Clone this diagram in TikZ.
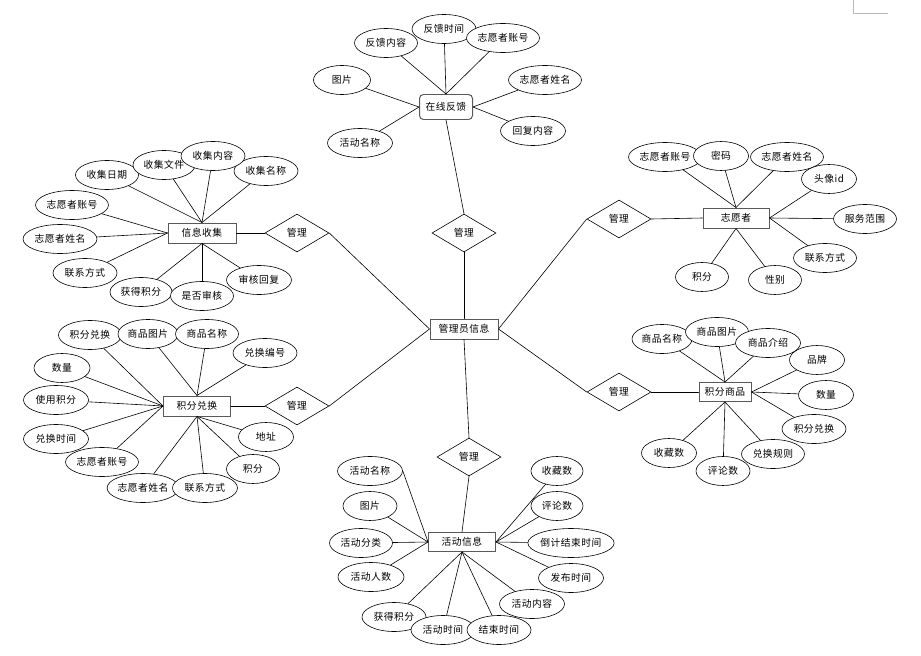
\documentclass[tikz,border=0pt]{standalone}
\usepackage{fontspec}
\newfontfamily\cjk[LetterSpace=5]{Noto Sans CJK SC}
\usepackage{tikz}
\usetikzlibrary{shapes.geometric}
\tikzset{
  entbox/.style={draw=black!65, line width=1pt, fill=white, minimum width=67bp, minimum height=20bp, inner sep=0pt},
  fbbox/.style={entbox, rounded corners=4bp, minimum width=53bp, minimum height=25bp},
  relbox/.style={diamond, draw, line width=0.6pt, fill=white, minimum width=64bp, minimum height=38bp, inner sep=0pt},
  attrell/.style={ellipse, draw, line width=0.6pt, fill=white, minimum height=29bp, inner sep=0pt},
  linkln/.style={line width=0.6pt, line cap=round},
  every node/.style={font=\cjk\fontsize{9.8}{11}\selectfont},
}
\newcommand{\attrnode}[4]{%
  \node[attrell, minimum width=#3bp] (#1) at #2 {#4};
}

\begin{document}
\begin{tikzpicture}[x=1bp, y=-1bp]
    \useasboundingbox (0,0) rectangle (921,656);
    % corner mark
    \draw[gray!55, line width=0.6pt] (853,0) -- (853,13) -- (888,13);
    % centre entity
    \node[entbox, minimum width=68bp] (admin) at (464,329) {管理员信息};
    % relations
    \node[relbox] (rFb) at (464,233) {管理};
    \node[relbox] (rCol) at (297,233) {管理};
    \node[relbox] (rVol) at (619,219) {管理};
    \node[relbox] (rExc) at (297,406) {管理};
    \node[relbox] (rGoods) at (619,392) {管理};
    \node[relbox] (rAct) at (469,457) {管理};

    % online feedback
    \node[fbbox] (fb) at (446,107) {在线反馈};
    \attrnode{fbA}{(386,43)}{63}{反馈内容}
    \attrnode{fbB}{(444,29)}{64}{反馈时间}
    \attrnode{fbC}{(503,38)}{73}{志愿者账号}
    \attrnode{fbD}{(342,80)}{57}{图片}
    \attrnode{fbE}{(545,80)}{73}{志愿者姓名}
    \attrnode{fbF}{(360,143)}{65}{活动名称}
    \attrnode{fbG}{(533,131)}{65}{回复内容}
    \foreach \a in {fbA,fbB,fbC} \draw[linkln] (\a) -- (fb.north);
    \foreach \a in {fbD,fbF} \draw[linkln] (\a) -- (fb.west);
    \foreach \a in {fbE,fbG} \draw[linkln] (\a) -- (fb.east);

    % information collection
    \node[entbox, minimum width=68bp] (col) at (202,233) {信息收集};
    \attrnode{colA}{(107,175)}{63}{收集日期}
    \attrnode{colB}{(164,165)}{62}{收集文件}
    \attrnode{colD}{(266,171)}{64}{收集名称}
    \attrnode{colC}{(213,156)}{64}{收集内容}
    \attrnode{colE}{(72,205)}{73}{志愿者账号}
    \attrnode{colF}{(60,239)}{74}{志愿者姓名}
    \attrnode{colG}{(85,273)}{64}{联系方式}
    \attrnode{colH}{(141,292)}{62}{获得积分}
    \attrnode{colI}{(202,296)}{63}{是否审核}
    \attrnode{colJ}{(259,280)}{65}{审核回复}
    \foreach \a in {colA,colB,colC,colD} \draw[linkln] (\a) -- (col.north);
    \foreach \a in {colE,colF,colG} \draw[linkln] (\a) -- (col.west);
    \foreach \a in {colH,colI,colJ} \draw[linkln] (\a) -- (col.south);

    % volunteer
    \node[entbox, minimum width=66bp] (vol) at (736,218) {志愿者};
    \attrnode{volA}{(665,157)}{73}{志愿者账号}
    \attrnode{volB}{(721,156)}{55}{密码}
    \attrnode{volC}{(787,157)}{73}{志愿者姓名}
    \attrnode{volD}{(829,179)}{55}{头像id}
    \attrnode{volE}{(865,219)}{63}{服务范围}
    \attrnode{volF}{(825,258)}{63}{联系方式}
    \attrnode{volG}{(775,280)}{53}{性别}
    \attrnode{volH}{(702,277)}{53}{积分}
    \foreach \a in {volA,volB,volC} \draw[linkln] (\a) -- (vol.north);
    \foreach \a in {volD,volE,volF} \draw[linkln] (\a) -- (vol.east);
    \foreach \a in {volG,volH} \draw[linkln] (\a) -- (vol.south);

    % points exchange
    \node[entbox] (exc) at (197,406) {积分兑换};
    \attrnode{excA}{(90,335)}{63}{积分兑换}
    \attrnode{excB}{(148,334)}{60}{商品图片}
    \attrnode{excC}{(207,334)}{63}{商品名称}
    \attrnode{excD}{(265,353)}{64}{兑换编号}
    \attrnode{excE}{(62,368)}{56}{数量}
    \attrnode{excF}{(56,400)}{65}{使用积分}
    \attrnode{excG}{(56,439)}{65}{兑换时间}
    \attrnode{excH}{(102,462)}{73}{志愿者账号}
    \attrnode{excI}{(143,488)}{68}{志愿者姓名}
    \attrnode{excJ}{(205,488)}{65}{联系方式}
    \attrnode{excK}{(253,469)}{53}{积分}
    \attrnode{excL}{(266,437)}{55}{地址}
    \foreach \a in {excB,excC,excD} \draw[linkln] (\a) -- (exc.north);
    \foreach \a in {excA,excE,excF,excG,excH} \draw[linkln] (\a) -- (exc.west);
    \foreach \a in {excI,excJ,excK,excL} \draw[linkln] (\a) -- (exc.south);

    % points goods
    \node[entbox, minimum width=52bp, minimum height=19bp] (goods) at (725,392) {积分商品};
    \attrnode{gA}{(662,339)}{60}{商品名称}
    \attrnode{gB}{(717,332)}{63}{商品图片}
    \attrnode{gC}{(768,343)}{65}{商品介绍}
    \attrnode{gD}{(817,360)}{55}{品牌}
    \attrnode{gE}{(826,395)}{55}{数量}
    \attrnode{gF}{(814,429)}{64}{积分兑换}
    \attrnode{gH}{(723,471)}{54}{评论数}
    \attrnode{gG}{(773,454)}{63}{兑换规则}
    \attrnode{gI}{(669,453)}{55}{收藏数}
    \foreach \a in {gA,gB,gC} \draw[linkln] (\a) -- (goods.north);
    \foreach \a in {gD,gE,gF} \draw[linkln] (\a) -- (goods.east);
    \foreach \a in {gG,gH,gI} \draw[linkln] (\a) -- (goods.south);

    % activity
    \node[entbox, minimum height=19bp] (act) at (462,542) {活动信息};
    \attrnode{aA}{(370,471)}{65}{活动名称}
    \attrnode{aB}{(370,506)}{54}{图片}
    \attrnode{aC}{(361,543)}{63}{活动分类}
    \attrnode{aD}{(371,577)}{66}{活动人数}
    \attrnode{aE}{(557,471)}{52}{收藏数}
    \attrnode{aF}{(557,506)}{52}{评论数}
    \attrnode{aG}{(571,543)}{85}{倒计结束时间}
    \attrnode{aH}{(571,578)}{65}{发布时间}
    \attrnode{aI}{(532,604)}{65}{活动内容}
    \attrnode{aL}{(394,617)}{64}{获得积分}
    \attrnode{aK}{(443,630)}{64}{活动时间}
    \attrnode{aJ}{(499,630)}{64}{结束时间}
    \draw[linkln] (aA.east) -- (act.west);
    \foreach \a in {aB,aC,aD} \draw[linkln] (\a) -- (act.west);
    \foreach \a in {aE,aF,aG,aH} \draw[linkln] (\a) -- (act.east);
    \foreach \a in {aI,aJ,aK,aL} \draw[linkln] (\a) -- (act.south);

    % relation links
    \draw[linkln] (fb.south) -- (rFb.north);
    \draw[linkln] (rFb.south) -- (admin.north);
    \draw[linkln] (col.east) -- (rCol.west);
    \draw[linkln] (rCol.east) -- (admin.west);
    \draw[linkln] (exc.east) -- (rExc.west);
    \draw[linkln] (rExc.east) -- (admin.west);
    \draw[linkln] (rVol.east) -- (vol.west);
    \draw[linkln] (admin.east) -- (rVol.west);
    \draw[linkln] (rGoods.east) -- (goods.west);
    \draw[linkln] (admin.east) -- (rGoods.west);
    \draw[linkln] (rAct.south) -- (act.north);
    \draw[linkln] (admin.south) -- (rAct.north);
  \end{tikzpicture}
\end{document}
